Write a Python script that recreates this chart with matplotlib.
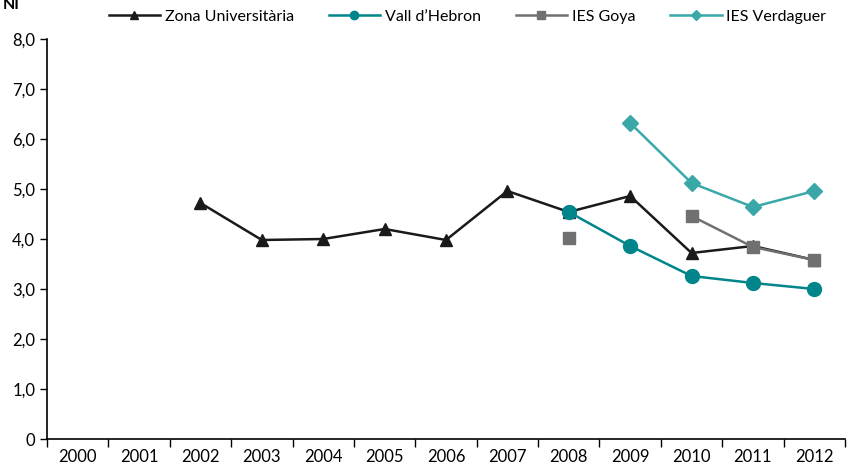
import numpy as np
import matplotlib
matplotlib.use("Agg")
import matplotlib.pyplot as plt
from matplotlib.ticker import FixedLocator

plt.rcParams['font.family'] = ['Lato', 'DejaVu Sans']

anys = ["2000", "2001", "2002", "2003", "2004", "2005", "2006",
        "2007", "2008", "2009", "2010", "2011", "2012"]
nan = np.nan
zona_univ = [nan, nan, 4.72, 3.98, 4.0, 4.2, 3.98, 4.96, 4.54, 4.86, 3.72, 3.86, 3.58]
vall_hebron = [nan, nan, nan, nan, nan, nan, nan, nan, 4.54, 3.86, 3.26, 3.12, 3.0]
ies_goya = [nan, nan, nan, nan, nan, nan, nan, nan, 4.02, nan, 4.46, 3.84, 3.58]
ies_verdaguer = [nan, nan, nan, nan, nan, nan, nan, nan, nan, 6.32, 5.12, 4.64, 4.96]

fig = plt.figure(figsize=(8.47, 4.69), dpi=100)
ax = fig.add_axes([47 / 847, 30 / 469, 798 / 847, 400 / 469])

x = np.arange(len(anys))
ax.plot(x, zona_univ, color="#1a1a1a", lw=1.8, marker="^", ms=9, label="Zona Universitària", zorder=3)
ax.plot(x, ies_verdaguer, color="#3aa8a8", lw=1.8, marker="D", ms=8, label="IES Verdaguer", zorder=2)
ax.plot(x, ies_goya, color="#707070", lw=1.8, marker="s", ms=9, label="IES Goya", zorder=4)
ax.plot(x, vall_hebron, color="#00868a", lw=1.8, marker="o", ms=10, label="Vall d\u2019Hebron", zorder=5)

ax.set_xlim(-0.5, len(anys) - 0.5)
ax.set_ylim(0, 8)
ax.set_xticks(x)
ax.set_xticklabels(anys)
ax.xaxis.set_minor_locator(FixedLocator(np.arange(-0.5, len(anys), 1.0)))
ax.tick_params(axis="x", which="major", length=0, pad=7, labelsize=12)
ax.tick_params(axis="x", which="minor", length=6, width=1, direction="out")
ax.set_yticks(range(9))
ax.set_yticklabels(["0"] + [f"{v},0" for v in range(1, 9)])
ax.tick_params(axis="y", length=5, width=1, direction="out", labelsize=12)
for s in ["top", "right"]:
    ax.spines[s].set_visible(False)
for s in ["left", "bottom"]:
    ax.spines[s].set_linewidth(1.2)

h, l = ax.get_legend_handles_labels()
order = [l.index(n) for n in ["Zona Universitària", "Vall d\u2019Hebron", "IES Goya", "IES Verdaguer"]]
fig.legend([h[i] for i in order], [l[i] for i in order], loc="center",
           bbox_to_anchor=(0.552, 0.964), ncol=4, frameon=False, fontsize=11.5,
           markerscale=0.6, handlelength=3.2, columnspacing=2.2, handletextpad=0.3)

fig.text(0.003, 0.99, "NI", fontsize=11.5, fontweight="bold", va="center", ha="left")

fig.savefig("out.png", dpi=100)
